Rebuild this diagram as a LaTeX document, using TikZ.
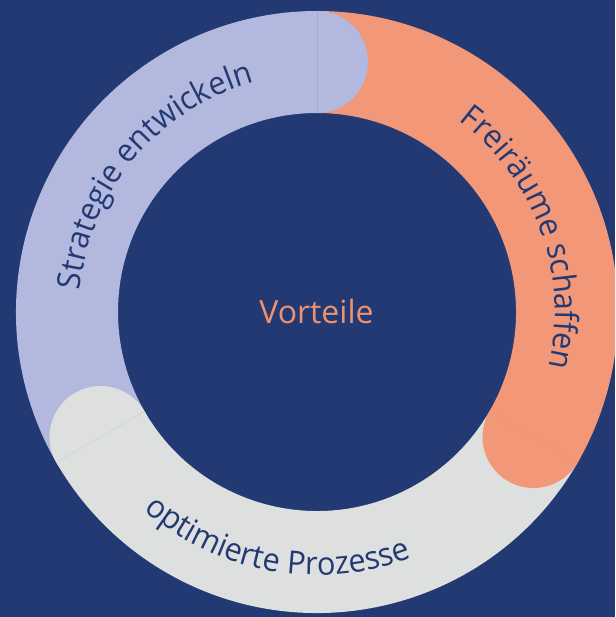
\documentclass[tikz,border=0pt]{standalone}
\usepackage{fontspec}
\setmainfont{Open Sans}
\newfontfamily\ringfam[FakeStretch=0.96]{Open Sans}
\usetikzlibrary{decorations.text}
\definecolor{navy}{RGB}{34,57,115}
\definecolor{orng}{RGB}{242,152,120}
\definecolor{lav}{RGB}{178,184,222}
\definecolor{lgray}{RGB}{222,224,223}
\definecolor{vort}{RGB}{238,145,110}
\newcommand{\ringfont}{\ringfam\fontsize{32}{38}\selectfont}
\newcommand{\centerfont}{\fontsize{32}{38}\selectfont}
\tikzset{
  ringtext/.style={decorate, decoration={text along path, text align=center, text color=navy, text={|\ringfont|#1}}},
  seam/.style={line width=0.35pt}
}
\begin{document}
\begin{tikzpicture}[x=1pt,y=1pt]
\useasboundingbox (0,0) rectangle (615,-617);
\fill[navy] (0,0) rectangle (615,-617);
\begin{scope}
\clip (0,0) rectangle (615,-617);
\coordinate (C) at (317,-312);
% segments
\fill[lav] ([shift={(C)}]210:301pt) arc[start angle=210, end angle=90, radius=301pt]
  -- ([shift={(C)}]90:199pt) arc[start angle=90, end angle=210, radius=199pt] -- cycle;
\fill[orng] ([shift={(C)}]90:301pt) arc[start angle=90, end angle=-30, radius=301pt]
  -- ([shift={(C)}]-30:199pt) arc[start angle=-30, end angle=90, radius=199pt] -- cycle;
\fill[lgray] ([shift={(C)}]-30:301pt) arc[start angle=-30, end angle=-150, radius=301pt]
  -- ([shift={(C)}]-150:199pt) arc[start angle=-150, end angle=-30, radius=199pt] -- cycle;
% round caps
\fill[lav] ([shift={(C)}]90:250pt) circle[radius=51pt];
\fill[orng] ([shift={(C)}]-30:250pt) circle[radius=51pt];
\fill[lgray] ([shift={(C)}]210:250pt) circle[radius=51pt];
% faint seams
\draw[seam, navy!10!lav] ([shift={(C)}]90:199pt) -- ([shift={(C)}]90:301pt);
\draw[seam, navy!5!orng] ([shift={(C)}]-30:199pt) -- ([shift={(C)}]-30:301pt);
\draw[seam, navy!12!lgray] ([shift={(C)}]210:199pt) -- ([shift={(C)}]210:301pt);
% texts along the ring
\path[ringtext={Strategie entwickeln}] ([shift={(C)}]200:238pt) arc[start angle=200, end angle=80, radius=238pt];
\path[ringtext={Freiräume schaffen}] ([shift={(C)}]80:238pt) arc[start angle=80, end angle=-40, radius=238pt];
\path[ringtext={optimierte Prozesse}] ([shift={(C)}]-160:263pt) arc[start angle=-160, end angle=-40, radius=263pt];
\end{scope}
\node[anchor=base, text=vort, font=\centerfont, inner sep=0pt] (vorteile) at (316.5,-323) {Vorteile};
\end{tikzpicture}
\end{document}
